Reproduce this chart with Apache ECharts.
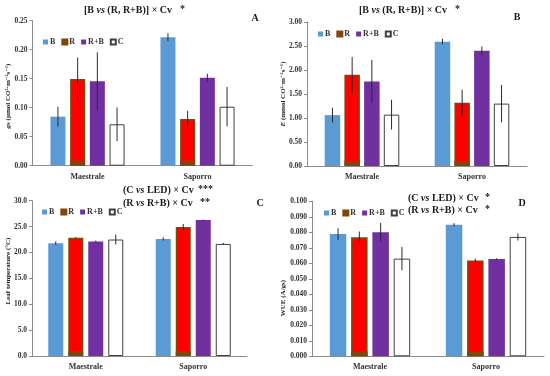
<!DOCTYPE html>
<html><head><meta charset="utf-8">
<script src="https://cdn.jsdelivr.net/npm/echarts@6/dist/echarts.min.js"></script>
<style>html,body{margin:0;padding:0;background:#fff}#c{width:550px;height:376px}</style>
</head><body><div id="c"></div>
<script>
const categories = ['Maestrale', 'Saporro'];
const treatments = ['B', 'R', 'R+B', 'C'];
// Panel A: stomatal conductance (rows: B, R, R+B, C; cols: Maestrale, Saporro)
const gsMean = [[0.0845, 0.2214], [0.1495, 0.0805], [0.1455, 0.1517], [0.0714, 0.1017]];
const gsErr  = [[0.017, 0.007], [0.037, 0.014], [0.050, 0.007], [0.029, 0.034]];
// Panel B: transpiration
const eMean = [[1.06, 2.59], [1.90, 1.32], [1.76, 2.40], [1.07, 1.30]];
const eErr  = [[0.155, 0.06], [0.37, 0.27], [0.45, 0.09], [0.31, 0.39]];
// Panel C: leaf temperature
const ltMean = [[21.8, 22.6], [22.85, 24.9], [22.1, 26.25], [22.5, 21.65]];
const ltErr  = [[0.35, 0.3], [0.15, 0.6], [0.2, 0.1], [0.95, 0.2]];
// Panel D: WUE
const wueMean = [[0.0789, 0.0849], [0.0768, 0.0618], [0.0800, 0.0628], [0.0630, 0.0770]];
const wueErr  = [[0.0037, 0.001], [0.0037, 0.0012], [0.006, 0.0005], [0.0075, 0.0023]];
// axis ranges
const gsAxis = [0, 0.25, 0.05, 2];
const eAxis = [0, 3, 0.5, 2];
const ltAxis = [0, 30, 5, 1];
const wueAxis = [0, 0.1, 0.01, 3];

const SERIF = '"Liberation Serif", "DejaVu Serif", serif';
const colB = '#5b9bd5', colR = '#ff0000', colRb = '#80460a', colRB = '#7030a0';
const styles = [
  {color: colB},
  {color: colR, borderColor: colRb, borderWidth: 1.5},
  {color: colRB},
  {color: '#ffffff', borderColor: '#404040', borderWidth: 1}
];

const panels = [
  {mean: gsMean, err: gsErr, axis: gsAxis, grid: {left: 32.5, top: 20.7, width: 220, height: 145}, barW: 15, gap: 4.7},
  {mean: eMean, err: eErr, axis: eAxis, grid: {left: 307, top: 22, width: 220, height: 144}, barW: 15.5, gap: 4.2},
  {mean: ltMean, err: ltErr, axis: ltAxis, grid: {left: 32, top: 200.7, width: 215, height: 155.3}, barW: 15, gap: 5},
  {mean: wueMean, err: wueErr, axis: wueAxis, grid: {left: 312, top: 201.3, width: 232, height: 155}, barW: 16.5, gap: 4.8}
];

const grid = [], xAxis = [], yAxis = [], series = [];
panels.forEach((p, gi) => {
  grid.push(p.grid);
  xAxis.push({
    type: 'category', gridIndex: gi, data: categories,
    axisLine: {lineStyle: {color: '#8c8c8c', width: 1}},
    axisTick: {show: false},
    axisLabel: {fontFamily: SERIF, fontSize: 8, fontWeight: 'bold', color: '#333', margin: 7}
  });
  const [mn, mx, step, dig] = p.axis;
  yAxis.push({
    type: 'value', gridIndex: gi, min: mn, max: mx, interval: step,
    axisLine: {show: true, lineStyle: {color: '#8c8c8c', width: 1}},
    axisTick: {show: true, length: 3, lineStyle: {color: '#8c8c8c'}},
    splitLine: {show: false},
    axisLabel: {fontFamily: SERIF, fontSize: 7.5, fontWeight: 'bold', color: '#333', margin: 5,
      formatter: v => v.toFixed(dig)}
  });
  treatments.forEach((t, ti) => {
    series.push({
      type: 'bar', name: t, xAxisIndex: gi, yAxisIndex: gi,
      data: p.mean[ti], barWidth: p.barW, barGap: (p.gap / p.barW * 100) + '%',
      itemStyle: styles[ti], emphasis: {disabled: true}
    });
  });
  const data = [];
  p.mean.forEach((row, ti) => row.forEach((v, ci) => data.push([ci, v, p.err[ti][ci], ti])));
  const barW = p.barW, gap = p.gap;
  series.push({
    type: 'custom', xAxisIndex: gi, yAxisIndex: gi, z: 10, silent: true,
    data: data, encode: {x: 0, y: 1},
    renderItem: function (params, api) {
      const c = api.value(0), v = api.value(1), e = api.value(2), t = api.value(3);
      const off = (t - 1.5) * (barW + gap);
      const top = api.coord([c, v + e]), bot = api.coord([c, v - e]);
      const x = top[0] + off;
      const children = [];
      if (t === 1) {
        const base = api.coord([c, 0]);
        children.push({type: 'rect', shape: {x: x - barW / 2, y: base[1] - 5, width: barW, height: 5}, style: {fill: colRb}});
      }
      children.push({type: 'line', shape: {x1: x, y1: top[1], x2: x, y2: bot[1]}, style: {stroke: '#2b2b2b', lineWidth: 1}});
      return {type: 'group', children: children};
    }
  });
});

const legendPos = [[43, 38], [318, 30], [42, 208], [324, 209]];
const legend = legendPos.map(pos => ({
  left: pos[0], top: pos[1], padding: 0, icon: 'rect', itemWidth: 5, itemHeight: 5, itemGap: 6,
  selectedMode: false,
  textStyle: {fontFamily: SERIF, fontSize: 8, fontWeight: 'bold', color: '#333', padding: [0, 0, 0, -3]},
  data: [{name: 'B'}, {name: 'R', itemStyle: {color: colRb}}, {name: 'R+B'}, {name: 'C'}]
}));

const rich = {
  b: {fontFamily: SERIF, fontSize: 10, fontWeight: 'bold', fill: '#1a1a1a'},
  i: {fontFamily: SERIF, fontSize: 10, fontWeight: 'bold', fontStyle: 'italic', fill: '#1a1a1a'}
};
function txt(x, y, text, opts) {
  return {type: 'text', x: x, y: y, style: Object.assign({
    text: text, fontFamily: SERIF, fontSize: 10, fontWeight: 'bold', fill: '#1a1a1a',
    align: 'left', verticalAlign: 'middle', rich: rich
  }, opts || {})};
}
function rot(x, y, text) {
  return {type: 'text', x: x, y: y, rotation: Math.PI / 2, style: {
    text: text, fontFamily: SERIF, fontSize: 7, fontWeight: 'bold', fill: '#1a1a1a',
    align: 'center', verticalAlign: 'middle',
    rich: {it: {fontFamily: SERIF, fontSize: 7, fontWeight: 'bold', fontStyle: 'italic', fill: '#1a1a1a'},
           n: {fontFamily: SERIF, fontSize: 7, fontWeight: 'bold', fill: '#1a1a1a'}}
  }};
}
const graphic = [
  txt(84, 10, '{b|[B }{i|vs}{b| (R, R+B)] × Cv}'),
  txt(180, 9, '*'),
  txt(359, 10, '{b|[B }{i|vs}{b| (R, R+B)] × Cv}'),
  txt(455, 9, '*'),
  txt(123, 190, '{b|(C }{i|vs}{b| LED) × Cv}'),
  txt(198, 189, '***'),
  txt(123, 203, '{b|(R }{i|vs}{b| R+B) × Cv}'),
  txt(200, 202, '**'),
  txt(408, 198, '{b|(C }{i|vs}{b| LED) × Cv}'),
  txt(485, 197, '*'),
  txt(408, 210, '{b|(R }{i|vs}{b| R+B) × Cv}'),
  txt(485, 209, '*'),
  txt(255, 18, 'A', {align: 'center'}),
  txt(517, 17, 'B', {align: 'center'}),
  txt(260, 203, 'C', {align: 'center'}),
  txt(522, 203, 'D', {align: 'center'}),
  rot(8, 96, '{it|g}{n|s (µmol CO²·m⁻²s⁻¹)}'),
  rot(283, 94, '{it|E}{n| (mmol CO²·m⁻²s⁻¹)}'),
  rot(8, 271, '{n|Leaf temperature (°C)}'),
  rot(283, 298, '{n|WUE (A/gs)}')
];

const chart = echarts.init(document.getElementById('c'), null, {renderer: 'canvas'});
chart.setOption({
  animation: false, backgroundColor: '#fff',
  grid: grid, xAxis: xAxis, yAxis: yAxis, series: series, legend: legend, graphic: graphic
});
</script></body></html>
